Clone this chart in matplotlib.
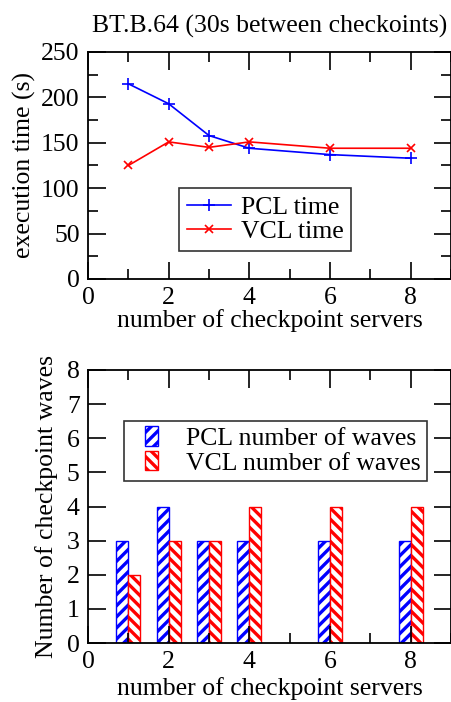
import matplotlib
matplotlib.use("Agg")
import matplotlib.pyplot as plt
from matplotlib.ticker import MultipleLocator
from matplotlib.patches import Patch, Rectangle
from matplotlib.legend_handler import HandlerPatch
import numpy as np

servers = [1, 2, 3, 4, 6, 8]
pcl_time = [215, 193, 158, 144, 137, 133]
vcl_time = [125, 151, 145, 151, 144, 144]
pcl_waves = [3, 4, 3, 3, 3, 3]
vcl_waves = [2, 3, 3, 4, 4, 4]

plt.rcParams['font.family'] = ['Liberation Serif', 'DejaVu Serif']
plt.rcParams['hatch.linewidth'] = 2.4
FS = 18.5

fig = plt.figure(figsize=(4.52, 7.02), dpi=100)
W, H = 452, 702
ax1 = fig.add_axes([88 / W, 1 - 279 / H, 363 / W, 227 / H])
ax2 = fig.add_axes([88 / W, 1 - 643 / H, 363 / W, 273 / H])

def style(ax):
    ax.tick_params(which='both', direction='in', top=True, right=True, width=1.2,
                   labelsize=FS, pad=6)
    ax.tick_params(which='major', length=12.6)
    ax.tick_params(which='minor', length=7)
    for s in ax.spines.values():
        s.set_linewidth(1.3)

# top plot
ax1.plot(servers, pcl_time, color='#0000ff', marker='+', markersize=9, lw=1.2,
         mew=1.2, label='PCL time')
ax1.plot(servers, vcl_time, color='#ff0000', marker='x', markersize=6, lw=1.2,
         mew=1.2, label='VCL time')
ax1.set_xlim(0, 9)
ax1.set_ylim(0, 250)
ax1.xaxis.set_major_locator(MultipleLocator(2))
ax1.xaxis.set_minor_locator(MultipleLocator(1))
ax1.yaxis.set_major_locator(MultipleLocator(50))
ax1.yaxis.set_minor_locator(MultipleLocator(25))
style(ax1)
ax1.set_xlabel('number of checkpoint servers', fontsize=FS, labelpad=0)
ax1.set_ylabel('execution time (s)', fontsize=FS, labelpad=3.5)
ax1.set_title('BT.B.64 (30s between checkoints)', fontsize=FS, pad=14)
leg1 = ax1.legend(loc='lower left', bbox_to_anchor=((179 - 88) / 363, (279 - 251) / 227),
                  fontsize=FS, frameon=True, fancybox=False, edgecolor='black',
                  handlelength=1.71, borderpad=0.3, labelspacing=0.05, handletextpad=0.39,
                  borderaxespad=0)
leg1.get_frame().set_linewidth(1.2)

# bottom plot
x = np.array(servers, dtype=float)
bw = 0.3
ax2.bar(x - bw / 2, pcl_waves, width=bw, facecolor='white', edgecolor='#0000ff',
        hatch='///', lw=1.0, zorder=1)
ax2.bar(x + bw / 2, vcl_waves, width=bw, facecolor='white', edgecolor='#ff0000',
        hatch='\\\\\\', lw=1.0, zorder=1)
ax2.set_xlim(0, 9)
ax2.set_ylim(0, 8)
ax2.xaxis.set_major_locator(MultipleLocator(2))
ax2.xaxis.set_minor_locator(MultipleLocator(1))
ax2.yaxis.set_major_locator(MultipleLocator(1))
style(ax2)
ax2.set_xlabel('number of checkpoint servers', fontsize=FS, labelpad=3)
ax2.set_ylabel('Number of checkpoint waves', fontsize=FS, labelpad=6)


def small_rect(legend, orig_handle, xdescent, ydescent, width, height, fontsize):
    return Rectangle((-xdescent + 0.286 * width, -ydescent - 0.05 * height),
                     0.255 * width, 1.1 * height)


handles = [Patch(facecolor='white', edgecolor='#0000ff', hatch='///'),
           Patch(facecolor='white', edgecolor='#ff0000', hatch='\\\\\\')]
leg2 = ax2.legend(handles, ['PCL number of waves', 'VCL number of waves'],
                  loc='lower left', bbox_to_anchor=((124 - 88) / 363, (643 - 481) / 273),
                  fontsize=FS, frameon=True, fancybox=False, edgecolor='black',
                  handlelength=2.0, handleheight=0.7, borderpad=0.25, labelspacing=0.05,
                  handletextpad=0.16, borderaxespad=0,
                  handler_map={Patch: HandlerPatch(patch_func=small_rect)})
leg2.get_frame().set_linewidth(1.2)

fig.savefig('out.png', dpi=100)
